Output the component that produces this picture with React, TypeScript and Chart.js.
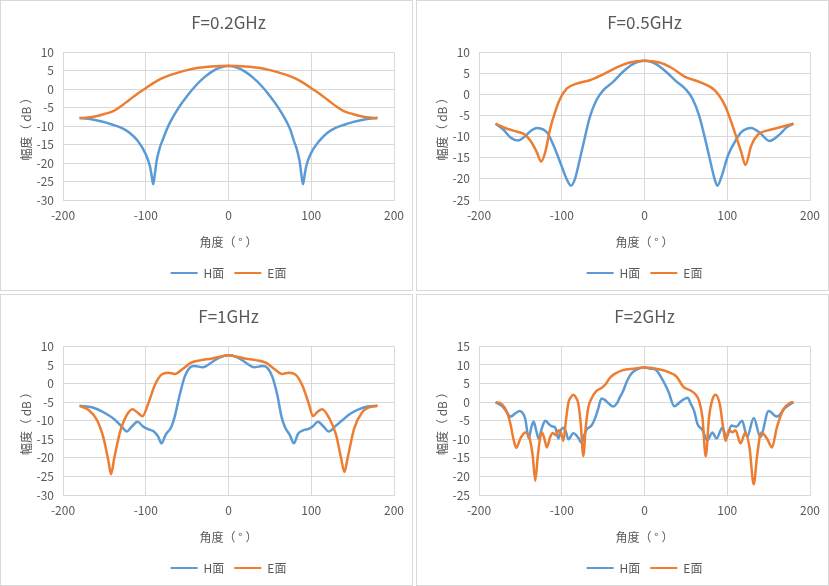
import { useEffect, useRef } from 'react';

import { Chart, registerables } from 'chart.js';
Chart.register(...registerables);

const FONT = '"Noto Sans CJK SC", "Noto Sans", sans-serif';
const TEXT_COLOR = '#595959';
const GRID_COLOR = '#D9D9D9';
const H_COLOR = '#5B9BD5';
const E_COLOR = '#ED7D31';

const SERIES_NAMES = ['H面', 'E面'];
const X_TITLE = '角度（ ° ）';
const Y_TITLE = '幅度（ dB ）';

const TITLES = ['F=0.2GHz', 'F=0.5GHz', 'F=1GHz', 'F=2GHz'];
const X_MIN = -200;
const X_MAX = 200;
const X_STEP = 100;
const Y_MIN = [-30, -25, -30, -25];
const Y_MAX = [10, 10, 10, 15];
const Y_STEP = 5;

// F = 0.2GHz
const H_ANGLE_02 = [-180, -170, -160, -150, -140, -130, -120, -110, -100, -95, -93, -91, -89, -87, -83, -80, -75, -70, -60, -50, -40, -30, -20, -10, 0, 10, 20, 30, 40, 50, 60, 70, 75, 79, 82, 86, 88, 90, 92, 94, 99, 110, 120, 130, 140, 150, 160, 170, 180];
const H_DB_02 = [-7.8, -8.0, -8.4, -8.9, -9.6, -10.4, -11.7, -13.9, -17.6, -20.8, -23.2, -25.7, -23.0, -19.6, -15.8, -14.0, -11.1, -8.7, -4.9, -1.8, 0.9, 3.1, 4.8, 5.9, 6.3, 5.9, 4.8, 3.1, 0.9, -1.8, -4.9, -8.7, -11.1, -14.0, -15.8, -19.6, -23.0, -25.7, -23.2, -20.8, -17.6, -13.9, -11.7, -10.4, -9.6, -8.9, -8.4, -8.0, -7.8];
const E_ANGLE_02 = [-180, -170, -160, -150, -140, -130, -120, -110, -100, -90, -80, -70, -60, -50, -40, -30, -20, -10, 0, 10, 20, 30, 40, 50, 60, 70, 80, 90, 100, 110, 120, 130, 140, 150, 160, 170, 180];
const E_DB_02 = [-7.8, -7.65, -7.3, -6.7, -6.0, -4.6, -2.9, -1.2, 0.3, 1.8, 3.0, 3.9, 4.6, 5.2, 5.7, 6.0, 6.2, 6.3, 6.35, 6.3, 6.2, 6.0, 5.7, 5.2, 4.6, 3.9, 3.0, 1.8, 0.3, -1.2, -2.9, -4.6, -6.0, -6.7, -7.3, -7.65, -7.8];

// F = 0.5GHz
const H_ANGLE_05 = [-180, -170, -162, -153, -145, -138, -130, -122, -117, -110, -102, -95, -89, -84, -78, -72, -66, -58, -50, -38, -26, -14, 0, 14, 26, 38, 50, 58, 66, 72, 78, 84, 88, 93, 101, 109, 117, 129, 139, 151, 163, 171, 180];
const H_DB_05 = [-6.9, -8.4, -10.2, -10.9, -10.0, -8.7, -7.9, -8.3, -9.2, -12.0, -16.0, -19.6, -21.6, -20.0, -15.2, -10.1, -5.3, -1.3, 1.0, 3.0, 5.4, 7.2, 8.0, 7.2, 5.4, 3.2, 1.2, -1.0, -5.0, -9.5, -14.5, -19.5, -21.6, -19.5, -14.4, -11.3, -8.9, -7.9, -9.0, -11.0, -9.5, -7.9, -6.9];
const E_ANGLE_05 = [-180, -166, -154, -146, -138, -130, -125, -120, -114, -108, -102, -94, -82, -66, -50, -34, -18, 0, 18, 33, 49, 69, 85, 97, 103, 109, 117, 122, 129, 137, 149, 165, 180];
const E_DB_05 = [-6.9, -8.1, -8.8, -9.3, -10.9, -13.7, -15.9, -13.7, -8.1, -4.1, -1.0, 1.4, 2.6, 3.4, 4.8, 6.4, 7.6, 8.0, 7.6, 6.3, 4.2, 2.8, 1.0, -2.5, -5.5, -8.9, -13.7, -16.7, -12.1, -9.5, -8.5, -7.7, -6.9];

// F = 1GHz
const H_ANGLE_1 = [-180, -165, -149, -137, -129, -123, -117, -110, -103, -97, -91, -85, -81, -76, -69, -65, -59, -53, -47, -41, -31, -21, -11, 0, 11, 21, 31, 41, 47, 53, 59, 64, 68, 74, 79, 84, 90, 97, 102, 108, 115, 121, 130, 138, 148, 158, 168, 180];
const H_DB_1 = [-6.0, -6.4, -8.0, -9.8, -11.6, -12.9, -11.6, -10.3, -11.6, -12.3, -12.8, -14.3, -16.1, -13.8, -11.6, -8.9, -3.1, 1.8, 4.2, 4.7, 4.4, 5.6, 7.0, 7.6, 7.0, 5.6, 4.4, 4.7, 4.2, 1.8, -3.1, -8.9, -11.6, -13.8, -16.1, -13.5, -12.6, -12.2, -11.5, -10.3, -11.6, -12.9, -11.3, -9.8, -8.0, -6.9, -6.2, -6.0];
const E_ANGLE_1 = [-180, -169, -159, -151, -145, -142, -138, -131, -123, -116, -109, -104, -97, -89, -81, -73, -65, -55, -45, -33, -21, -9, 0, 9, 21, 33, 45, 55, 65, 73, 81, 89, 97, 102, 108, 113, 122, 130, 136, 140, 144, 152, 162, 170, 180];
const E_DB_1 = [-6.0, -7.1, -9.8, -14.7, -21.0, -24.4, -20.0, -13.0, -8.5, -6.9, -8.0, -8.8, -5.4, -0.4, 2.4, 2.9, 2.6, 4.0, 5.6, 6.3, 6.7, 7.3, 7.6, 7.3, 6.7, 6.3, 5.6, 4.0, 2.6, 2.9, 2.4, -0.4, -5.4, -8.75, -7.5, -6.9, -9.4, -13.8, -20.0, -23.8, -20.0, -12.0, -7.6, -6.4, -6.0];

// F = 2GHz
const H_ANGLE_2 = [-180, -172, -167, -162, -156, -151, -147, -144, -140, -137, -134, -131, -128, -124, -120, -116, -112, -108, -104, -101, -98, -95, -92, -86, -80, -76, -73, -70, -64, -60, -56, -52, -48, -44, -38, -33, -30, -26, -22, -18, -14, -7, 0, 7, 13, 21, 29, 36, 44, 52, 56, 60, 64, 70, 76, 82, 87, 94, 99, 105, 111, 118, 124, 132, 140, 150, 160, 170, 180];
const H_DB_2 = [0.0, -1.1, -2.5, -3.9, -3.0, -2.4, -3.0, -4.6, -9.8, -7.0, -5.2, -7.5, -9.8, -7.0, -5.0, -5.8, -6.5, -6.8, -9.8, -7.5, -6.9, -8.0, -10.0, -8.4, -9.6, -11.0, -9.0, -7.4, -6.3, -4.5, -1.8, 1.0, 0.6, -0.2, -1.2, -0.2, 1.2, 2.9, 5.2, 7.0, 8.1, 9.0, 9.3, 9.0, 8.8, 6.3, 2.8, -1.1, 0.2, 1.2, -0.5, -2.4, -5.9, -7.5, -10.3, -8.2, -9.8, -6.9, -9.4, -6.3, -6.6, -5.0, -9.4, -4.3, -9.4, -2.4, -3.9, -1.5, 0.0];
const E_ANGLE_2 = [-180, -172, -166, -162, -158, -155, -150, -144, -139, -135, -132, -129, -126, -124, -121, -118, -114, -111, -107, -104, -101, -98, -95, -92, -89, -86, -83, -80, -77, -74, -71, -68, -64, -58, -52, -47, -42, -36, -26, -14, 0, 14, 29, 39, 47, 55, 62, 66, 70, 74, 78, 82, 86, 91, 95, 98, 102, 106, 110, 116, 122, 127, 132, 136, 141, 148, 154, 160, 168, 176, 180];
const E_DB_2 = [0.0, -0.6, -2.8, -5.9, -10.3, -12.3, -9.8, -8.2, -9.6, -14.6, -21.2, -14.6, -9.4, -8.2, -9.8, -12.2, -9.4, -8.3, -8.9, -7.6, -8.2, -10.4, -5.0, -0.2, 1.3, 2.0, 1.3, -0.4, -5.9, -14.5, -6.8, -1.5, 1.0, 3.0, 3.8, 4.8, 6.5, 7.6, 8.6, 9.0, 9.3, 9.0, 8.1, 6.8, 4.1, 3.2, 2.0, 0.3, -4.1, -14.6, -4.0, 0.7, 2.0, -0.6, -6.8, -10.4, -7.5, -8.1, -7.6, -11.1, -8.1, -12.5, -22.1, -14.6, -8.2, -9.8, -12.2, -6.8, -1.9, -0.2, 0.0];

const H_ANGLES = [H_ANGLE_02, H_ANGLE_05, H_ANGLE_1, H_ANGLE_2];
const H_DBS = [H_DB_02, H_DB_05, H_DB_1, H_DB_2];
const E_ANGLES = [E_ANGLE_02, E_ANGLE_05, E_ANGLE_1, E_ANGLE_2];
const E_DBS = [E_DB_02, E_DB_05, E_DB_1, E_DB_2];

const toPoints = (xs: number[], ys: number[]) => xs.map((x, i) => ({ x, y: ys[i] }));

interface PatternChartProps {
  index: number;
  width: number;
  height: number;
}

function PatternChart({ index, width, height }: PatternChartProps) {
  const canvasRef = useRef<HTMLCanvasElement>(null);
  const chartRef = useRef<Chart | null>(null);

  useEffect(() => {
    if (!canvasRef.current) return;
    if (chartRef.current) chartRef.current.destroy();

    const tickFont = { family: FONT, size: 12 };

    chartRef.current = new Chart(canvasRef.current, {
      type: 'line',
      data: {
        datasets: [
          {
            label: SERIES_NAMES[0],
            data: toPoints(H_ANGLES[index], H_DBS[index]),
            borderColor: H_COLOR,
            backgroundColor: H_COLOR,
            borderWidth: 2.5,
            pointRadius: 0,
            cubicInterpolationMode: 'monotone',
            order: 1
          },
          {
            label: SERIES_NAMES[1],
            data: toPoints(E_ANGLES[index], E_DBS[index]),
            borderColor: E_COLOR,
            backgroundColor: E_COLOR,
            borderWidth: 2.5,
            pointRadius: 0,
            cubicInterpolationMode: 'monotone',
            order: 0
          }
        ]
      },
      options: {
        animation: false,
        responsive: false,
        layout: {
          padding: { left: 0, right: 15, top: 0, bottom: 1 }
        },
        scales: {
          x: {
            type: 'linear',
            min: X_MIN,
            max: X_MAX,
            ticks: { stepSize: X_STEP, color: TEXT_COLOR, font: tickFont, padding: 8, maxRotation: 0 },
            grid: { color: GRID_COLOR, drawTicks: false },
            border: { color: GRID_COLOR },
            title: {
              display: true,
              text: X_TITLE,
              color: TEXT_COLOR,
              font: tickFont,
              padding: { top: 0, bottom: 7 }
            },
            afterFit: (scale: any) => { scale.height = 57; }
          },
          y: {
            min: Y_MIN[index],
            max: Y_MAX[index],
            ticks: { stepSize: Y_STEP, color: TEXT_COLOR, font: tickFont, padding: 9 },
            grid: { color: GRID_COLOR, drawTicks: false },
            border: { color: GRID_COLOR },
            title: {
              display: true,
              text: Y_TITLE,
              color: TEXT_COLOR,
              font: tickFont,
              padding: { top: 18, bottom: 0 }
            },
            afterFit: (scale: any) => { scale.width = 62; }
          }
        },
        plugins: {
          title: {
            display: true,
            text: TITLES[index],
            fullSize: false,
            color: TEXT_COLOR,
            font: { family: FONT, size: 17, weight: 'normal' },
            padding: { top: 11, bottom: 20 }
          },
          legend: {
            position: 'bottom',
            fullSize: false,
            labels: {
              color: TEXT_COLOR,
              font: tickFont,
              boxWidth: 27,
              boxHeight: 2,
              padding: 10,
              generateLabels: (chart: Chart) =>
                Chart.defaults.plugins.legend.labels
                  .generateLabels(chart)
                  .map((item: any) => ({ ...item, lineWidth: 0 }))
                  .sort((a: any, b: any) => a.datasetIndex - b.datasetIndex)
            }
          },
          tooltip: { enabled: false }
        }
      }
    } as any);

    return () => {
      if (chartRef.current) {
        chartRef.current.destroy();
        chartRef.current = null;
      }
    };
  }, [index]);

  return <canvas ref={canvasRef} width={width} height={height} style={{ display: 'block' }} />;
}

const PANEL_BOXES = [
  { left: 0, top: 0, height: 291 },
  { left: 416, top: 0, height: 291 },
  { left: 0, top: 294, height: 292 },
  { left: 416, top: 294, height: 292 }
];

export default function App() {
  return (
    <div style={{ position: 'fixed', left: 0, top: 0, width: 829, height: 586, background: '#fff' }}>
      {PANEL_BOXES.map((box, i) => (
        <div
          key={i}
          style={{
            position: 'absolute',
            left: box.left,
            top: box.top,
            width: 413,
            height: box.height,
            border: `1px solid ${GRID_COLOR}`,
            boxSizing: 'border-box',
            background: '#fff'
          }}
        >
          <PatternChart index={i} width={411} height={box.height - 2} />
        </div>
      ))}
    </div>
  );
}
